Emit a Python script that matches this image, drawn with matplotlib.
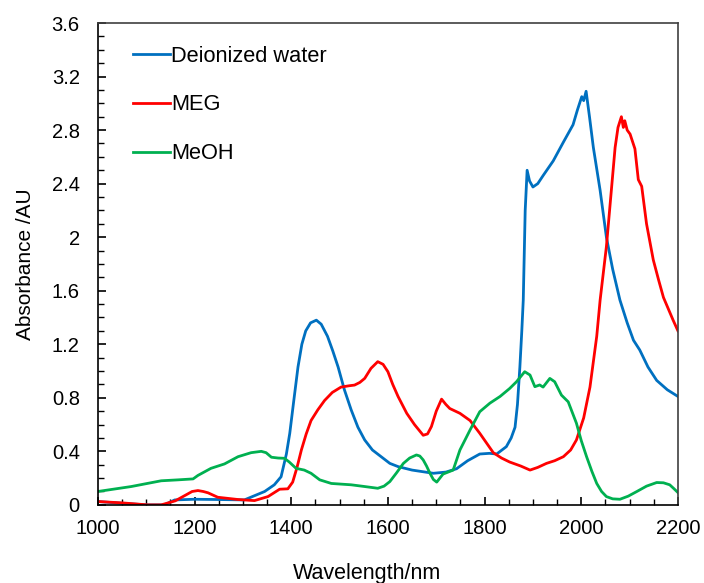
import matplotlib
matplotlib.use("Agg")
import matplotlib.pyplot as plt
from matplotlib.ticker import MultipleLocator

plt.rcParams['font.family'] = ['Liberation Sans', 'DejaVu Sans']

# wavelength (nm) / absorbance (AU)
water_wl = [1000, 1050, 1100, 1138, 1159, 1200, 1250, 1303, 1345, 1365, 1379, 1390,
            1397, 1405, 1414, 1422, 1430, 1440, 1452, 1462, 1475, 1486, 1497, 1510,
            1524, 1538, 1552, 1568, 1586, 1604, 1621, 1650, 1694, 1720, 1742, 1765,
            1790, 1810, 1825, 1845, 1855, 1863, 1868, 1873, 1877, 1880, 1884, 1888,
            1893, 1900, 1910, 1921, 1942, 1963, 1983, 1992, 2001, 2005, 2010, 2017,
            2025, 2039, 2052, 2065, 2080, 2095, 2108, 2121, 2138, 2156, 2178, 2200]
water_abs = [0.025, 0.012, 0.0, 0.0, 0.037, 0.042, 0.04, 0.037, 0.1, 0.15, 0.21, 0.38,
             0.535, 0.77, 1.03, 1.2, 1.3, 1.36, 1.38, 1.35, 1.26, 1.15, 1.03, 0.86,
             0.71, 0.58, 0.485, 0.41, 0.36, 0.31, 0.286, 0.26, 0.236, 0.245, 0.27, 0.33,
             0.38, 0.385, 0.38, 0.435, 0.5, 0.58, 0.75, 1.03, 1.3, 1.53, 2.2, 2.5,
             2.42, 2.375, 2.4, 2.46, 2.57, 2.71, 2.84, 2.95, 3.05, 3.02, 3.09, 2.9,
             2.67, 2.35, 2.0, 1.76, 1.53, 1.36, 1.23, 1.157, 1.03, 0.93, 0.86, 0.81]

meg_wl = [1000, 1050, 1103, 1131, 1160, 1180, 1195, 1207, 1218, 1228, 1248, 1290,
          1324, 1352, 1376, 1393, 1403, 1412, 1421, 1431, 1441, 1455, 1469, 1485,
          1503, 1520, 1531, 1542, 1552, 1565, 1579, 1590, 1600, 1610, 1621, 1639,
          1655, 1673, 1682, 1690, 1700, 1711, 1720, 1728, 1749, 1770, 1790, 1818,
          1835, 1852, 1875, 1894, 1910, 1928, 1945, 1963, 1978, 1990, 2005, 2018,
          2032, 2039, 2052, 2070, 2076, 2083, 2087, 2090, 2095, 2101, 2111, 2118,
          2125, 2135, 2149, 2160, 2170, 2190, 2200]
meg_abs = [0.025, 0.015, 0.0, 0.0, 0.03, 0.07, 0.1, 0.107, 0.1, 0.09, 0.057, 0.04,
           0.032, 0.062, 0.117, 0.12, 0.17, 0.28, 0.41, 0.53, 0.63, 0.71, 0.78, 0.84,
           0.88, 0.89, 0.895, 0.915, 0.945, 1.02, 1.07, 1.05, 0.995, 0.9, 0.81, 0.684,
           0.6, 0.52, 0.53, 0.585, 0.7, 0.79, 0.75, 0.72, 0.684, 0.63, 0.535, 0.39,
           0.35, 0.32, 0.29, 0.26, 0.28, 0.31, 0.33, 0.36, 0.41, 0.485, 0.65, 0.88,
           1.26, 1.53, 1.93, 2.67, 2.82, 2.9, 2.82, 2.87, 2.8, 2.77, 2.66, 2.43,
           2.38, 2.1, 1.83, 1.68, 1.55, 1.38, 1.3]

meoh_wl = [1000, 1069, 1131, 1166, 1197, 1207, 1234, 1262, 1290, 1317, 1338, 1348,
           1359, 1373, 1386, 1396, 1410, 1427, 1441, 1459, 1483, 1524, 1552, 1579,
           1592, 1604, 1618, 1632, 1645, 1659, 1666, 1673, 1680, 1687, 1694, 1701,
           1714, 1735, 1749, 1770, 1790, 1811, 1832, 1852, 1866, 1883, 1894, 1904,
           1914, 1921, 1935, 1945, 1959, 1973, 1990, 2000, 2011, 2022, 2032, 2042,
           2052, 2065, 2080, 2097, 2115, 2135, 2156, 2170, 2183, 2192, 2200]
meoh_abs = [0.1, 0.137, 0.18, 0.187, 0.194, 0.22, 0.273, 0.306, 0.36, 0.39, 0.4, 0.39,
            0.356, 0.35, 0.348, 0.32, 0.273, 0.26, 0.236, 0.187, 0.16, 0.15, 0.137, 0.124,
            0.14, 0.174, 0.24, 0.31, 0.35, 0.373, 0.365, 0.336, 0.29, 0.236, 0.19, 0.17,
            0.23, 0.26, 0.41, 0.56, 0.696, 0.76, 0.81, 0.87, 0.92, 0.995, 0.97, 0.883,
            0.896, 0.88, 0.945, 0.92, 0.82, 0.77, 0.61, 0.48, 0.36, 0.25, 0.16, 0.1,
            0.062, 0.045, 0.042, 0.065, 0.1, 0.14, 0.167, 0.165, 0.15, 0.12, 0.092]

fig = plt.figure(figsize=(7.04, 5.83), dpi=100)
ax = fig.add_axes([0.139, 0.134, 0.824, 0.8265])

lw = 2.0
ax.plot(water_wl, water_abs, color='#0070C0', lw=lw, label='Deionized water')
ax.plot(meg_wl, meg_abs, color='#FF0000', lw=lw, label='MEG')
ax.plot(meoh_wl, meoh_abs, color='#00B050', lw=lw, label='MeOH')

ax.set_xlim(1000, 2200)
ax.set_ylim(0, 3.6)
ax.xaxis.set_major_locator(MultipleLocator(200))
ax.xaxis.set_minor_locator(MultipleLocator(50))
ax.yaxis.set_minor_locator(MultipleLocator(0.1))
ax.set_yticks([0, 0.4, 0.8, 1.2, 1.6, 2, 2.4, 2.8, 3.2, 3.6])
ax.set_yticklabels(['0', '0.4', '0.8', '1.2', '1.6', '2', '2.4', '2.8', '3.2', '3.6'])
ax.tick_params(which='both', direction='in', labelsize=14.5, colors='black',
               top=False, right=False)
ax.tick_params(which='major', length=6, width=1.2)
ax.tick_params(which='minor', length=4, width=1.0)
ax.tick_params(axis='x', pad=10)
ax.tick_params(axis='y', pad=13)
for s in ax.spines.values():
    s.set_color('#404040')
    s.set_linewidth(1.2)
ax.spines['left'].set_color('black')
ax.spines['bottom'].set_color('black')

ax.set_xlabel('Wavelength/nm', fontsize=15.5)
ax.xaxis.set_label_coords(0.464, -0.12)
ax.set_ylabel('Absorbance /AU', fontsize=15, labelpad=12)

ax.legend(loc='upper left', bbox_to_anchor=(0.0266, 0.9938), frameon=False,
          fontsize=15.7, handlelength=1.7, handletextpad=0.05, labelspacing=1.275)

fig.savefig('out.png', dpi=100)
